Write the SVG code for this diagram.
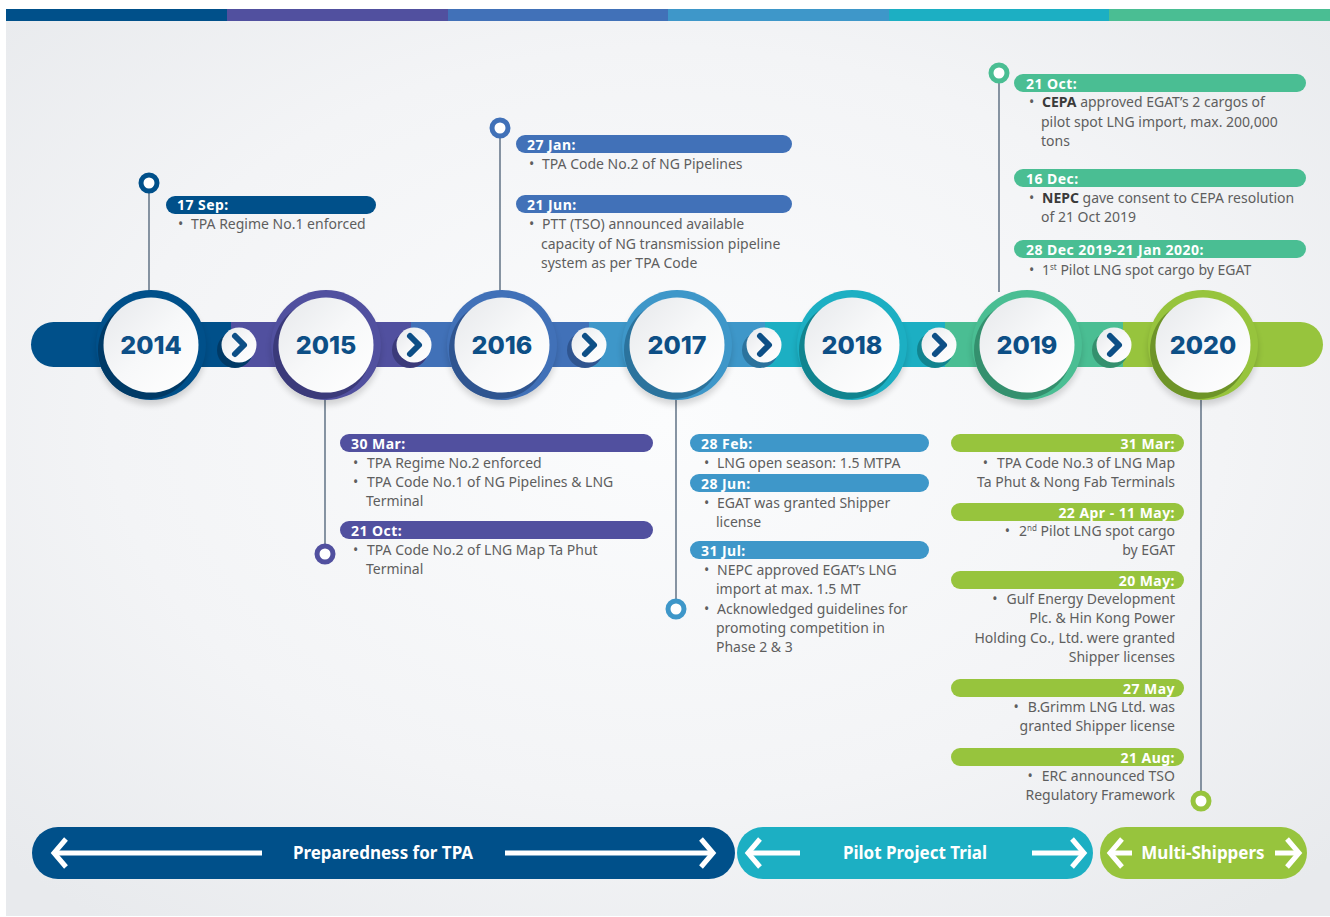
<svg xmlns="http://www.w3.org/2000/svg" width="1330" height="917" viewBox="0 0 1330 917">
<defs>
<radialGradient id="bg" cx="50%" cy="45%" r="70%">
<stop offset="0" stop-color="#fbfcfd"/><stop offset="0.6" stop-color="#f3f4f6"/><stop offset="1" stop-color="#e8eaed"/>
</radialGradient>
<linearGradient id="wg" x1="0" y1="0" x2="1" y2="1">
<stop offset="0" stop-color="#e6e8eb"/><stop offset="0.5" stop-color="#f7f8f9"/><stop offset="1" stop-color="#ffffff"/>
</linearGradient>
<filter id="sh" x="-20%" y="-20%" width="140%" height="150%">
<feGaussianBlur stdDeviation="3"/>
</filter>
<style>
.yr{font-family:Inter,"Open Sans",sans-serif;font-weight:800;font-size:25px;fill:#0d4f86;text-anchor:middle}
.bl{font-family:"Noto Sans","Open Sans",sans-serif;font-weight:700;font-size:14px;letter-spacing:0.45px;fill:#fff}
.tx{font-family:"Noto Sans","Open Sans",sans-serif;font-size:14px;fill:#5e5e5e}
.b{font-weight:700;fill:#3a3a3a}
.pl{font-family:"Noto Sans","Open Sans",sans-serif;font-weight:700;font-size:17px;fill:#fff;text-anchor:middle}
.ln{stroke:#6a7a8c;stroke-width:1.6;fill:none}
.mk{fill:#fff;stroke-width:5}
.chev{fill:none;stroke:#0d4f86;stroke-width:6;stroke-linecap:round;stroke-linejoin:round}
.arr{fill:none;stroke:#fff;stroke-width:5;stroke-linecap:butt;stroke-linejoin:miter}
.end{text-anchor:end}
</style>
</defs>
<rect width="1330" height="917" fill="#fff"/>
<rect x="6" y="21" width="1324" height="895" fill="url(#bg)"/>
<g id="topbar">
<rect x="6" y="9" width="221" height="12" fill="#00508a"/>
<rect x="227" y="9" width="221" height="12" fill="#51509f"/>
<rect x="448" y="9" width="220" height="12" fill="#4171b8"/>
<rect x="668" y="9" width="221" height="12" fill="#3e97c9"/>
<rect x="889" y="9" width="220" height="12" fill="#1cafc3"/>
<rect x="1109" y="9" width="221" height="12" fill="#4abe93"/>
</g>
<g id="band">
<path d="M53.5 322 H231 V367 H53.5 A22.5 22.5 0 0 1 53.5 322 Z" fill="#00508a"/>
<rect x="231" y="322" width="180" height="45" fill="#51509f"/>
<rect x="411" y="322" width="178" height="45" fill="#4171b8"/>
<rect x="589" y="322" width="176" height="45" fill="#3e97c9"/>
<rect x="765" y="322" width="180" height="45" fill="#1cafc3"/>
<rect x="945" y="322" width="178" height="45" fill="#4abe93"/>
<path d="M1123 322 H1300.5 A22.5 22.5 0 0 1 1300.5 367 H1123 Z" fill="#97c43d"/>
</g>
<g id="connectors">
<line class="ln" x1="149" y1="191" x2="149" y2="291"/>
<line class="ln" x1="500" y1="136" x2="500" y2="291"/>
<line class="ln" x1="999" y1="81" x2="999" y2="292"/>
<line class="ln" x1="325" y1="399" x2="325" y2="546"/>
<line class="ln" x1="676" y1="399" x2="676" y2="601"/>
<line class="ln" x1="1201" y1="399" x2="1201" y2="793"/>
<circle class="mk" cx="149" cy="183" r="8" stroke="#00508a"/>
<circle class="mk" cx="500" cy="128" r="8" stroke="#4171b8"/>
<circle class="mk" cx="999" cy="73" r="8" stroke="#4abe93"/>
<circle class="mk" cx="325" cy="554" r="8" stroke="#51509f"/>
<circle class="mk" cx="676" cy="609" r="8" stroke="#3e97c9"/>
<circle class="mk" cx="1201" cy="801" r="8" stroke="#97c43d"/>
</g>
<g id="chevrons">
<g id="chev1"><circle cx="235" cy="350" r="18" fill="#003a66"/><circle cx="239" cy="345" r="17.5" fill="url(#wg)"/><path class="chev" d="M235 336 L244 345 L235 354"/></g>
<g id="chev2"><circle cx="410" cy="350" r="18" fill="#3b3a7a"/><circle cx="414" cy="345" r="17.5" fill="url(#wg)"/><path class="chev" d="M410 336 L419 345 L410 354"/></g>
<g id="chev3"><circle cx="585" cy="350" r="18" fill="#2f5590"/><circle cx="589" cy="345" r="17.5" fill="url(#wg)"/><path class="chev" d="M585 336 L594 345 L585 354"/></g>
<g id="chev4"><circle cx="760" cy="350" r="18" fill="#2b739d"/><circle cx="764" cy="345" r="17.5" fill="url(#wg)"/><path class="chev" d="M760 336 L769 345 L760 354"/></g>
<g id="chev5"><circle cx="935" cy="350" r="18" fill="#11848f"/><circle cx="939" cy="345" r="17.5" fill="url(#wg)"/><path class="chev" d="M935 336 L944 345 L935 354"/></g>
<g id="chev6"><circle cx="1110" cy="350" r="18" fill="#34906e"/><circle cx="1114" cy="345" r="17.5" fill="url(#wg)"/><path class="chev" d="M1110 336 L1119 345 L1110 354"/></g>
</g>
<g id="y2014"><circle cx="151" cy="350" r="55" fill="#000" opacity="0.15" filter="url(#sh)"/><circle cx="151" cy="345" r="55" fill="#00508a"/><circle cx="147" cy="350" r="49" fill="#003a66"/><circle cx="151" cy="345" r="47.5" fill="url(#wg)"/><text class="yr" x="151" y="354">2014</text></g>
<g id="y2015"><circle cx="326" cy="350" r="55" fill="#000" opacity="0.15" filter="url(#sh)"/><circle cx="326" cy="345" r="55" fill="#51509f"/><circle cx="322" cy="350" r="49" fill="#3b3a7a"/><circle cx="326" cy="345" r="47.5" fill="url(#wg)"/><text class="yr" x="326" y="354">2015</text></g>
<g id="y2016"><circle cx="502" cy="350" r="55" fill="#000" opacity="0.15" filter="url(#sh)"/><circle cx="502" cy="345" r="55" fill="#4171b8"/><circle cx="498" cy="350" r="49" fill="#2f5590"/><circle cx="502" cy="345" r="47.5" fill="url(#wg)"/><text class="yr" x="502" y="354">2016</text></g>
<g id="y2017"><circle cx="677" cy="350" r="55" fill="#000" opacity="0.15" filter="url(#sh)"/><circle cx="677" cy="345" r="55" fill="#3e97c9"/><circle cx="673" cy="350" r="49" fill="#2b739d"/><circle cx="677" cy="345" r="47.5" fill="url(#wg)"/><text class="yr" x="677" y="354">2017</text></g>
<g id="y2018"><circle cx="852" cy="350" r="55" fill="#000" opacity="0.15" filter="url(#sh)"/><circle cx="852" cy="345" r="55" fill="#1cafc3"/><circle cx="848" cy="350" r="49" fill="#11848f"/><circle cx="852" cy="345" r="47.5" fill="url(#wg)"/><text class="yr" x="852" y="354">2018</text></g>
<g id="y2019"><circle cx="1027" cy="350" r="55" fill="#000" opacity="0.15" filter="url(#sh)"/><circle cx="1027" cy="345" r="55" fill="#4abe93"/><circle cx="1023" cy="350" r="49" fill="#34906e"/><circle cx="1027" cy="345" r="47.5" fill="url(#wg)"/><text class="yr" x="1027" y="354">2019</text></g>
<g id="y2020"><circle cx="1203" cy="350" r="55" fill="#000" opacity="0.15" filter="url(#sh)"/><circle cx="1203" cy="345" r="55" fill="#97c43d"/><circle cx="1199" cy="350" r="49" fill="#6e9428"/><circle cx="1203" cy="345" r="47.5" fill="url(#wg)"/><text class="yr" x="1203" y="354">2020</text></g>

<g id="e2014">
<rect x="166" y="196" width="210" height="18" rx="9" fill="#00508a"/>
<text class="bl" x="177" y="210">17 Sep:</text>
<text class="tx" x="178" y="229">•</text><text class="tx" x="191" y="229">TPA Regime No.1 enforced</text>
</g>
<g id="e2016">
<rect x="516" y="135" width="276" height="18" rx="9" fill="#4171b8"/>
<text class="bl" x="527" y="150">27 Jan:</text>
<text class="tx" x="529" y="169">•</text><text class="tx" x="542" y="169">TPA Code No.2 of NG Pipelines</text>
<rect x="516" y="195" width="276" height="18" rx="9" fill="#4171b8"/>
<text class="bl" x="527" y="210">21 Jun:</text>
<text class="tx" x="529" y="229">•</text><text class="tx" x="542" y="229">PTT (TSO) announced available</text>
<text class="tx" x="541" y="249">capacity of NG transmission pipeline</text>
<text class="tx" x="541" y="268">system as per TPA Code</text>
</g>
<g id="e2019">
<rect x="1014" y="74" width="292" height="18" rx="9" fill="#4abe93"/>
<text class="bl" x="1026" y="89">21 Oct:</text>
<text class="tx" x="1029" y="107">•</text><text class="tx" x="1042" y="107"><tspan class="b">CEPA</tspan> approved EGAT’s 2 cargos of</text>
<text class="tx" x="1041" y="127">pilot spot LNG import, max. 200,000</text>
<text class="tx" x="1041" y="146">tons</text>
<rect x="1014" y="169" width="292" height="18" rx="9" fill="#4abe93"/>
<text class="bl" x="1026" y="184">16 Dec:</text>
<text class="tx" x="1029" y="203">•</text><text class="tx" x="1042" y="203"><tspan class="b">NEPC</tspan> gave consent to CEPA resolution</text>
<text class="tx" x="1041" y="222">of 21 Oct 2019</text>
<rect x="1014" y="240" width="292" height="18" rx="9" fill="#4abe93"/>
<text class="bl" x="1026" y="255">28 Dec 2019-21 Jan 2020:</text>
<text class="tx" x="1029" y="275">•</text><text class="tx" x="1042" y="275">1<tspan font-size="8" dy="-5">st</tspan><tspan dy="5"> Pilot LNG spot cargo by EGAT</tspan></text>
</g>
<g id="e2015">
<rect x="340" y="434" width="313" height="18" rx="9" fill="#51509f"/>
<text class="bl" x="351" y="449">30 Mar:</text>
<text class="tx" x="353" y="468">•</text><text class="tx" x="367" y="468">TPA Regime No.2 enforced</text>
<text class="tx" x="353" y="487">•</text><text class="tx" x="367" y="487">TPA Code No.1 of NG Pipelines &amp; LNG</text>
<text class="tx" x="366" y="506">Terminal</text>
<rect x="340" y="521" width="313" height="18" rx="9" fill="#51509f"/>
<text class="bl" x="351" y="536">21 Oct:</text>
<text class="tx" x="353" y="555">•</text><text class="tx" x="367" y="555">TPA Code No.2 of LNG Map Ta Phut</text>
<text class="tx" x="366" y="574">Terminal</text>
</g>
<g id="e2017">
<rect x="690" y="434" width="239" height="18" rx="9" fill="#3e97c9"/>
<text class="bl" x="701" y="449">28 Feb:</text>
<text class="tx" x="704" y="468">•</text><text class="tx" x="717" y="468">LNG open season: 1.5 MTPA</text>
<rect x="690" y="474" width="239" height="18" rx="9" fill="#3e97c9"/>
<text class="bl" x="701" y="489">28 Jun:</text>
<text class="tx" x="704" y="508">•</text><text class="tx" x="717" y="508">EGAT was granted Shipper</text>
<text class="tx" x="716" y="527">license</text>
<rect x="690" y="541" width="239" height="18" rx="9" fill="#3e97c9"/>
<text class="bl" x="701" y="556">31 Jul:</text>
<text class="tx" x="704" y="575">•</text><text class="tx" x="717" y="575">NEPC approved EGAT’s LNG</text>
<text class="tx" x="716" y="594">import at max. 1.5 MT</text>
<text class="tx" x="704" y="614">•</text><text class="tx" x="717" y="614">Acknowledged guidelines for</text>
<text class="tx" x="716" y="633">promoting competition in</text>
<text class="tx" x="716" y="652">Phase 2 &amp; 3</text>
</g>
<g id="e2020">
<rect x="951" y="434" width="233" height="18" rx="9" fill="#97c43d"/>
<text class="bl end" x="1175" y="449">31 Mar:</text>
<text class="tx end" x="1175" y="468"><tspan>•</tspan><tspan dx="9">TPA Code No.3 of LNG Map</tspan></text>
<text class="tx end" x="1175" y="487">Ta Phut &amp; Nong Fab Terminals</text>
<rect x="951" y="503" width="233" height="18" rx="9" fill="#97c43d"/>
<text class="bl end" x="1175" y="518">22 Apr - 11 May:</text>
<text class="tx end" x="1175" y="536"><tspan>•</tspan><tspan dx="9">2</tspan><tspan font-size="8" dy="-5">nd</tspan><tspan dy="5"> Pilot LNG spot cargo</tspan></text>
<text class="tx end" x="1175" y="555">by EGAT</text>
<rect x="951" y="571" width="233" height="18" rx="9" fill="#97c43d"/>
<text class="bl end" x="1175" y="586">20 May:</text>
<text class="tx end" x="1175" y="604"><tspan>•</tspan><tspan dx="9">Gulf Energy Development</tspan></text>
<text class="tx end" x="1175" y="623">Plc. &amp; Hin Kong Power</text>
<text class="tx end" x="1175" y="643">Holding Co., Ltd. were granted</text>
<text class="tx end" x="1175" y="662">Shipper licenses</text>
<rect x="951" y="679" width="233" height="18" rx="9" fill="#97c43d"/>
<text class="bl end" x="1175" y="694">27 May</text>
<text class="tx end" x="1175" y="712"><tspan>•</tspan><tspan dx="9">B.Grimm LNG Ltd. was</tspan></text>
<text class="tx end" x="1175" y="731">granted Shipper license</text>
<rect x="951" y="748" width="233" height="18" rx="9" fill="#97c43d"/>
<text class="bl end" x="1175" y="763">21 Aug:</text>
<text class="tx end" x="1175" y="781"><tspan>•</tspan><tspan dx="9">ERC announced TSO</tspan></text>
<text class="tx end" x="1175" y="800">Regulatory Framework</text>
</g>

<g id="phase1">
<rect x="32" y="827" width="703" height="52" rx="26" fill="#00508a"/>
<line class="arr" x1="55" y1="853" x2="262" y2="853"/><path class="arr" d="M66 839 L54 853 L66 867"/>
<line class="arr" x1="505" y1="853" x2="712" y2="853"/><path class="arr" d="M701 839 L713 853 L701 867"/>
<text class="pl" x="383" y="859">Preparedness for TPA</text>
</g>
<g id="phase2">
<rect x="737" y="827" width="356" height="52" rx="26" fill="#1cafc3"/>
<line class="arr" x1="749" y1="853" x2="800" y2="853"/><path class="arr" d="M760 839 L748 853 L760 867"/>
<line class="arr" x1="1032" y1="853" x2="1083" y2="853"/><path class="arr" d="M1072 839 L1084 853 L1072 867"/>
<text class="pl" x="915" y="859">Pilot Project Trial</text>
</g>
<g id="phase3">
<rect x="1100" y="827" width="207" height="52" rx="26" fill="#97c43d"/>
<line class="arr" x1="1112" y1="853" x2="1132" y2="853"/><path class="arr" d="M1122 839 L1110 853 L1122 867"/>
<line class="arr" x1="1275" y1="853" x2="1297" y2="853"/><path class="arr" d="M1287 839 L1299 853 L1287 867"/>
<text class="pl" x="1203" y="859">Multi-Shippers</text>
</g>
</svg>
